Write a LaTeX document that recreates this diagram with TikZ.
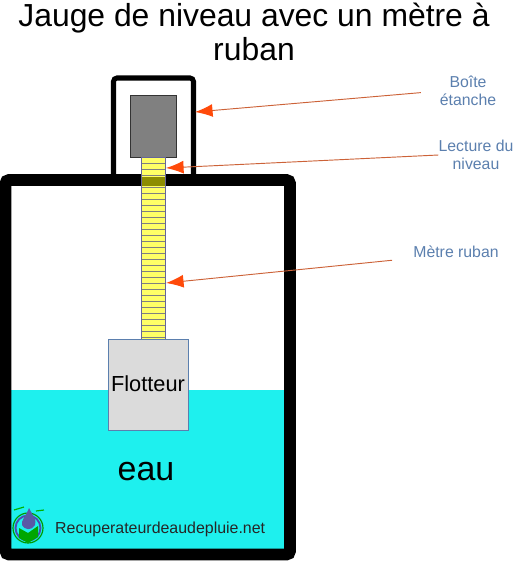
\documentclass[tikz,border=0pt]{standalone}
\usepackage{fontspec}
\setmainfont{Liberation Sans}
\usetikzlibrary{arrows.meta}
\definecolor{eaucolor}{HTML}{1EF0EE}
\definecolor{labelcolor}{HTML}{5B7FAE}
\definecolor{tipcolor}{HTML}{FF4A0A}
\definecolor{linecolor}{HTML}{CC6238}
\definecolor{tapecolor}{HTML}{FFFF66}
\definecolor{bandcolor}{HTML}{8C8C00}
\tikzset{
    wall/.style={draw=black, rounded corners=3pt},
    label text/.style={text=labelcolor, align=center, inner sep=0pt, font=\fontsize{13.5}{15.5}\selectfont},
    pointer/.style={draw=linecolor, line width=0.8pt, -{Latex[length=15pt, width=11pt, color=tipcolor]}},
}
\begin{document}
\begin{tikzpicture}[x=0.03cm, y=-0.03cm]
    \useasboundingbox (0, 0) rectangle (514, 561);

    % Title
    \node[align=center, inner sep=0pt, font=\fontsize{27.2}{29}\selectfont] (title) at (254, 32) {Jauge de niveau avec un mètre à\\ruban};

    % Water
    \fill[eaucolor] (11, 390) rectangle (285, 550);

    % Sealed box and tank
    \draw[wall, line width=4.3pt] (113.5, 180) -- (113.5, 78) -- (193.5, 78) -- (193.5, 180);
    \draw[wall, line width=10pt] (5.5, 180) rectangle (290, 554.5);

    % Reader
    \draw[fill=gray, draw=black!80, thick] (130, 95) rectangle (176, 157);

    % Tape
    \draw[fill=tapecolor, draw=gray!80!blue] (141.5, 157) rectangle (165, 339);
    \foreach \y in {163, 169, ..., 337} {
        \draw[black!50, line width=0.4pt] (141.5, \y) -- (165, \y);
    }
    \fill[bandcolor] (141.5, 176.5) rectangle (165, 186);

    % Float
    \draw[fill=gray!28, draw=labelcolor, thick] (108, 339) rectangle (188, 430);
    \node[inner sep=0pt, font=\fontsize{18.6}{22}\selectfont] (flotteur) at (148, 384) {Flotteur};

    \node[inner sep=0pt, font=\fontsize{29}{34}\selectfont] (eau) at (146, 472) {eau};

    % Logo
    \draw[green!60!black, line width=1pt] (28, 528) circle (15);
    \draw[blue!40!gray, line width=1.6pt] (28, 528) circle (12.5);
    \fill[green!65!black] (19, 528) -- (28, 533) -- (38, 526) -- (38, 537) -- (28, 543) -- (19, 538) -- cycle;
    \fill[blue!30!gray] (29, 508) .. controls (33, 516) and (37, 520) .. (35, 525) .. controls (32, 531) and (24, 530) .. (22, 525) .. controls (21, 520) and (26, 516) .. (29, 508);
    \draw[green!70!black, line width=1pt] (14, 510) -- (24, 507);
    \draw[green!70!black, line width=1pt] (36, 511) -- (44, 510);

    \node[anchor=west, inner sep=0pt, text=black!85, font=\fontsize{13.6}{16}\selectfont] (site) at (55, 529) {Recuperateurdeaudepluie.net};

    % Labels
    \node[label text] (boite) at (468, 91) {Boîte\\étanche};
    \node[label text] (lecture) at (476, 155) {Lecture du\\niveau};
    \node[label text] (metre) at (456, 252) {Mètre ruban};

    % Pointers
    \coordinate (boite tip) at (195, 112);
    \coordinate (lecture tip) at (166, 168);
    \coordinate (metre tip) at (166, 283);
    \draw[pointer, shorten <=16pt] (boite.west) -- (boite tip);
    \draw[pointer] (lecture.west) -- (lecture tip);
    \draw[pointer, shorten <=18pt] (metre.south west) -- (metre tip);
\end{tikzpicture}
\end{document}
